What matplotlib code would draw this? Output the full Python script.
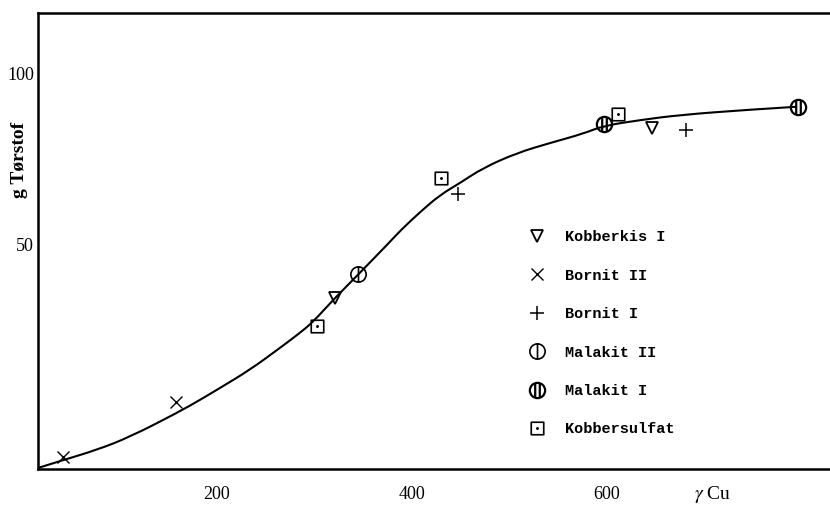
import numpy as np
import matplotlib
matplotlib.use("Agg")
import matplotlib.pyplot as plt
from matplotlib.path import Path
from matplotlib.patches import PathPatch

plt.rcParams["mathtext.fontset"] = "stix"

# curve (gamma Cu, g Tørstof)
curve_x = [16.4, 42.1, 76.9, 110.8, 159.0, 182.6, 203.1, 233.8, 264.6, 285.1,
           298.5, 319.0, 339.5, 377.4, 387.7, 408.2, 428.7, 449.2, 472.8, 507.7,
           541.5, 575.4, 595.9, 633.8, 674.9, 743.6, 794.9]
curve_y = [-15.2, -12.9, -9.9, -6.1, 0.9, 4.7, 8.2, 13.5, 19.9, 24.3,
           27.5, 33.9, 39.8, 50.9, 54.1, 59.6, 64.6, 68.1, 72.5, 76.9,
           79.8, 82.5, 84.8, 86.5, 88.0, 89.5, 90.4]

# measured points
kobberkis_x = [321, 646]
kobberkis_y = [34.5, 84.2]
bornit2_x = [42, 158]
bornit2_y = [-12.0, 4.1]
bornit1_x = [447, 681]
bornit1_y = [64.9, 83.6]
malakit2_x = [345]
malakit2_y = [41.5]
malakit1_x = [597, 796]
malakit1_y = [85.4, 90.4]
sulfat_x = [303, 430, 611]
sulfat_y = [26.3, 69.6, 88.3]

labels = ["Kobberkis I", "Bornit II", "Bornit I", "Malakit II", "Malakit I", "Kobbersulfat"]


def circle_with_bars(offsets):
    parts = [Path.circle((0, 0), 1.0)]
    for o in offsets:
        parts.append(Path([(o, -0.95), (o, 0.95)], [Path.MOVETO, Path.LINETO]))
    return Path.make_compound_path(*parts)


def smooth_path(xs, ys):
    # quadratic bezier through midpoints, points used as control points
    pts = np.column_stack([xs, ys])
    verts = [pts[0]]
    codes = [Path.MOVETO]
    for i in range(1, len(pts) - 1):
        mid = (pts[i] + pts[i + 1]) / 2
        if i == len(pts) - 2:
            mid = pts[i + 1]
        verts += [pts[i], mid]
        codes += [Path.CURVE3, Path.CURVE3]
    return Path(verts, codes)


sq = Path([(-1, -1), (1, -1), (1, 1), (-1, 1), (-1, -1)],
          [Path.MOVETO, Path.LINETO, Path.LINETO, Path.LINETO, Path.CLOSEPOLY])
square_dot = Path.make_compound_path(sq, Path.circle((0, 0), 0.1))
mal2_marker = circle_with_bars([0.0])
mal1_marker = circle_with_bars([-0.3, 0.3])

serif = "Liberation Serif"
mono = {"family": "Liberation Mono", "weight": "bold", "size": 11}

fig = plt.figure(figsize=(8.3, 5.05), dpi=100)
ax = fig.add_axes([38 / 830, 1 - 469 / 505, 792 / 830, 456 / 505])

ax.add_patch(PathPatch(smooth_path(curve_x, curve_y), facecolor="none",
                       edgecolor="black", lw=1.5))

kw = dict(linestyle="none", color="black", markerfacecolor="none")
h1, = ax.plot(kobberkis_x, kobberkis_y, marker="v", markersize=8, mew=1.3, **kw)
h2, = ax.plot(bornit2_x, bornit2_y, marker="x", markersize=8, mew=1.0, **kw)
h3, = ax.plot(bornit1_x, bornit1_y, marker="+", markersize=10, mew=1.1, **kw)
h4, = ax.plot(malakit2_x, malakit2_y, marker=mal2_marker, markersize=11, mew=1.2, **kw)
h5, = ax.plot(malakit1_x, malakit1_y, marker=mal1_marker, markersize=11, mew=1.6, **kw)
h6, = ax.plot(sulfat_x, sulfat_y, marker=square_dot, markersize=9, mew=1.2, **kw)

ax.set_xlim(16.4, 828.7)
ax.set_ylim(-15.5, 117.8)
ax.set_xticks([200, 400, 600])
ax.set_yticks([50, 100])
ax.tick_params(length=0)
ax.tick_params(axis="x", pad=12)
ax.tick_params(axis="y", pad=3)
for t in ax.get_xticklabels() + ax.get_yticklabels():
    t.set_fontfamily(serif)
    t.set_fontsize(13)

ax.spines["right"].set_visible(False)
for side in ["left", "top", "bottom"]:
    ax.spines[side].set_linewidth(1.8)

ax.set_ylabel("g Tørstof", fontfamily=serif, fontweight="bold", fontsize=14)
ax.yaxis.set_label_coords(-0.0126, 0.678)
ax.set_xlabel(r"$\gamma$ Cu", fontfamily=serif, fontsize=14)
ax.xaxis.set_label_coords(0.852, -0.033)

ax.legend([h1, h2, h3, h4, h5, h6], labels, prop=mono, frameon=False,
          loc="upper left", bbox_to_anchor=(0.611, 0.537), labelspacing=1.6,
          handlelength=1.2, handletextpad=1.25, borderaxespad=0)

fig.savefig("out.png", dpi=100)
